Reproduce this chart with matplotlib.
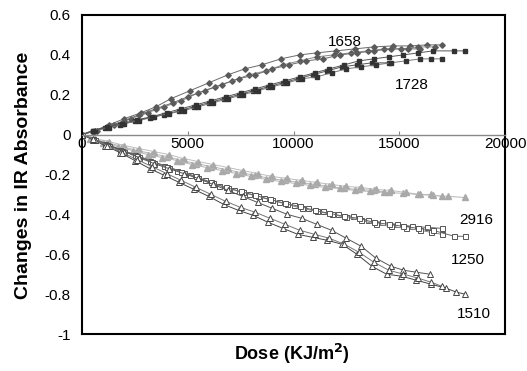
import matplotlib
matplotlib.use('Agg')
import matplotlib.pyplot as plt
from matplotlib.ticker import FuncFormatter

plt.rcParams['font.family'] = ['Liberation Sans', 'DejaVu Sans']

# ---- data: dose (KJ/m2) vs change in IR absorbance ----
# 1658 band (filled diamonds), replicate runs
dose_1658_a = [0, 600, 1300, 2000, 2800, 3500, 4200, 5100, 6000, 6900, 7700, 8500,
               9400, 10300, 11100, 12000, 12900, 13800, 14700, 15500, 16300, 17000]
abs_1658_a = [0, 0.02, 0.05, 0.08, 0.11, 0.14, 0.18, 0.22, 0.26, 0.30, 0.33, 0.35,
              0.38, 0.40, 0.41, 0.42, 0.43, 0.44, 0.445, 0.445, 0.45, 0.45]
dose_1658_b = [0, 700, 1500, 2300, 3100, 3900, 4700, 5500, 6300, 7100, 7900, 8700,
               9500, 10300, 11100, 11900, 12700, 13500, 14300, 15100, 15900, 16700]
abs_1658_b = [0, 0.02, 0.05, 0.08, 0.11, 0.14, 0.17, 0.21, 0.24, 0.27, 0.30, 0.32,
              0.35, 0.37, 0.39, 0.40, 0.41, 0.42, 0.43, 0.43, 0.44, 0.44]
dose_1658_c = [0, 500, 1200, 2000, 2700, 3500, 4300, 5000, 5800, 6600, 7400, 8200,
               9000, 9800, 10600, 11400, 12200, 13000, 13800, 14600, 15400, 16000]
abs_1658_c = [0, 0.015, 0.04, 0.07, 0.10, 0.13, 0.16, 0.19, 0.22, 0.25, 0.28, 0.30,
              0.33, 0.35, 0.37, 0.38, 0.40, 0.41, 0.42, 0.43, 0.43, 0.43]

# 1728 band (filled squares)
dose_1728_a = [0, 500, 1100, 1800, 2500, 3200, 3900, 4600, 5300, 6000, 6700, 7400,
               8100, 8800, 9500, 10200, 10900, 11600, 12300, 13000, 13700, 14500]
abs_1728_a = [0, 0.02, 0.035, 0.05, 0.07, 0.085, 0.10, 0.12, 0.14, 0.16, 0.18, 0.20,
              0.22, 0.24, 0.26, 0.28, 0.30, 0.32, 0.34, 0.35, 0.36, 0.36]
dose_1728_b = [0, 600, 1300, 2000, 2700, 3400, 4100, 4800, 5500, 6200, 6900, 7600,
               8300, 9000, 9700, 10400, 11100, 11800, 12500, 13200, 13900, 14600,
               15300, 16000, 16500, 17000]
abs_1728_b = [0, 0.02, 0.035, 0.055, 0.07, 0.09, 0.105, 0.12, 0.14, 0.16, 0.18, 0.20,
              0.22, 0.24, 0.26, 0.28, 0.29, 0.31, 0.33, 0.34, 0.35, 0.36,
              0.37, 0.38, 0.38, 0.38]
dose_1728_c = [0, 500, 1200, 1900, 2600, 3300, 4000, 4700, 5400, 6100, 6800, 7500,
               8200, 8900, 9600, 10300, 11000, 11700, 12400, 13100, 13800, 14500,
               15200, 15900, 16600, 17600, 18100]
abs_1728_c = [0, 0.02, 0.04, 0.055, 0.075, 0.09, 0.11, 0.13, 0.15, 0.17, 0.19, 0.21,
              0.23, 0.25, 0.27, 0.29, 0.31, 0.33, 0.35, 0.37, 0.38, 0.39,
              0.40, 0.41, 0.42, 0.42, 0.42]

# 2916 band (grey filled triangles)
dose_2916_a = [0, 500, 1200, 1900, 2600, 3300, 4000, 4700, 5400, 6100, 6800, 7500,
               8200, 8900, 9600, 10300, 11000, 11700, 12400, 13100, 13800, 14500,
               15200, 15900, 16600, 17300, 18100]
abs_2916_a = [0, -0.02, -0.04, -0.06, -0.08, -0.095, -0.11, -0.13, -0.145, -0.16,
              -0.175, -0.19, -0.205, -0.22, -0.23, -0.24, -0.25, -0.26, -0.27,
              -0.275, -0.28, -0.29, -0.295, -0.30, -0.305, -0.31, -0.315]
dose_2916_b = [0, 600, 1300, 2000, 2700, 3400, 4100, 4800, 5500, 6200, 6900, 7600,
               8300, 9000, 9700, 10400, 11100, 11800, 12500, 13200, 13900, 14600,
               15300, 16000, 16500, 17000]
abs_2916_b = [0, -0.02, -0.035, -0.055, -0.07, -0.085, -0.10, -0.12, -0.135, -0.15,
              -0.165, -0.18, -0.195, -0.21, -0.22, -0.23, -0.24, -0.25, -0.26,
              -0.265, -0.275, -0.28, -0.29, -0.30, -0.30, -0.31]
dose_2916_c = [0, 400, 1000, 1700, 2400, 3100, 3800, 4500, 5200, 5900, 6600, 7300,
               8000, 8700, 9400, 10100, 10800, 11500, 12200, 12900, 13600, 14300]
abs_2916_c = [0, -0.02, -0.04, -0.06, -0.08, -0.10, -0.115, -0.13, -0.15, -0.165,
              -0.18, -0.195, -0.21, -0.225, -0.235, -0.245, -0.255, -0.265,
              -0.27, -0.28, -0.285, -0.29]

# 1250 band (open squares)
dose_1250_a = [0, 500, 1100, 1800, 2500, 3200, 3900, 4500, 5100, 5800, 6500, 7200,
               7900, 8600, 9300, 10000, 10700, 11400, 12100, 12800, 13500, 14200,
               14900, 15600, 16300, 17000]
abs_1250_a = [0, -0.02, -0.045, -0.075, -0.10, -0.13, -0.155, -0.18, -0.205, -0.23,
              -0.26, -0.28, -0.30, -0.32, -0.34, -0.355, -0.37, -0.385, -0.40,
              -0.41, -0.43, -0.44, -0.45, -0.46, -0.465, -0.47]
dose_1250_b = [0, 600, 1300, 2000, 2700, 3400, 4100, 4800, 5500, 6200, 6900, 7600,
               8300, 9000, 9700, 10400, 11100, 11800, 12500, 13200, 13900, 14600,
               15300, 16000, 16500, 17000]
abs_1250_b = [0, -0.025, -0.055, -0.085, -0.11, -0.14, -0.165, -0.19, -0.22, -0.245,
              -0.27, -0.29, -0.31, -0.33, -0.35, -0.37, -0.385, -0.40, -0.415,
              -0.43, -0.45, -0.46, -0.47, -0.48, -0.49, -0.50]
dose_1250_c = [0, 500, 1200, 1900, 2600, 3300, 4000, 4700, 5400, 6100, 6800, 7500,
               8200, 8900, 9600, 10300, 11000, 11700, 12400, 13100, 13800, 14500,
               15200, 15900, 16600, 17600, 18100]
abs_1250_c = [0, -0.02, -0.05, -0.08, -0.105, -0.135, -0.16, -0.185, -0.21, -0.24,
              -0.265, -0.285, -0.305, -0.325, -0.345, -0.36, -0.38, -0.395, -0.41,
              -0.42, -0.44, -0.45, -0.46, -0.47, -0.48, -0.51, -0.51]

# 1510 band (open triangles)
dose_1510_a = [0, 500, 1100, 1800, 2500, 3200, 3900, 4600, 5300, 6000, 6700, 7400,
               8100, 8800, 9500, 10200, 10900, 11600, 12300, 13000, 13700, 14400,
               15100, 15800, 16500, 17200, 17700, 18100]
abs_1510_a = [0, -0.025, -0.055, -0.09, -0.13, -0.17, -0.205, -0.24, -0.275, -0.31,
              -0.35, -0.38, -0.405, -0.44, -0.47, -0.50, -0.515, -0.53, -0.55,
              -0.60, -0.66, -0.70, -0.71, -0.73, -0.75, -0.77, -0.79, -0.80]
dose_1510_b = [0, 600, 1300, 2000, 2700, 3400, 4100, 4800, 5500, 6200, 6900, 7600,
               8300, 9000, 9700, 10400, 11100, 11800, 12500, 13200, 13900, 14600,
               15200, 15800, 16450]
abs_1510_b = [0, -0.025, -0.055, -0.085, -0.115, -0.145, -0.17, -0.195, -0.22, -0.25,
              -0.28, -0.31, -0.34, -0.37, -0.40, -0.42, -0.45, -0.48, -0.52,
              -0.56, -0.62, -0.66, -0.68, -0.69, -0.70]
dose_1510_c = [0, 500, 1200, 1900, 2600, 3300, 4000, 4700, 5400, 6100, 6800, 7500,
               8200, 8900, 9600, 10300, 11000, 11700, 12400, 13100, 13800, 14500,
               15200, 15900, 16500, 17000]
abs_1510_c = [0, -0.02, -0.055, -0.09, -0.125, -0.16, -0.195, -0.23, -0.265, -0.30,
              -0.335, -0.365, -0.39, -0.42, -0.45, -0.48, -0.50, -0.52, -0.55,
              -0.59, -0.64, -0.68, -0.70, -0.72, -0.74, -0.76]

band_labels = ['1658', '1728', '2916', '1250', '1510']
label_pos = [(12450, 0.465), (15600, 0.25), (18650, -0.43), (18250, -0.63), (18550, -0.90)]

x_ticks = [0, 5000, 10000, 15000, 20000]
y_ticks = [0.6, 0.4, 0.2, 0, -0.2, -0.4, -0.6, -0.8, -1]

series = [
    (dose_1658_a, abs_1658_a, dict(marker='D', ms=2.8, mfc='#5a5a5a', mec='#5a5a5a', color='#6a6a6a')),
    (dose_1658_b, abs_1658_b, dict(marker='D', ms=2.8, mfc='#5a5a5a', mec='#5a5a5a', color='#8a8a8a')),
    (dose_1658_c, abs_1658_c, dict(marker='D', ms=2.8, mfc='#5a5a5a', mec='#5a5a5a', color='#6a6a6a')),
    (dose_1728_a, abs_1728_a, dict(marker='s', ms=3.2, mfc='#333333', mec='#333333', color='#555555')),
    (dose_1728_b, abs_1728_b, dict(marker='s', ms=3.2, mfc='#333333', mec='#333333', color='#777777')),
    (dose_1728_c, abs_1728_c, dict(marker='s', ms=3.2, mfc='#333333', mec='#333333', color='#555555')),
    (dose_2916_a, abs_2916_a, dict(marker='^', ms=3.8, mfc='#a9a9a9', mec='#a9a9a9', color='#b5b5b5')),
    (dose_2916_b, abs_2916_b, dict(marker='^', ms=3.8, mfc='#a9a9a9', mec='#a9a9a9', color='#bdbdbd')),
    (dose_2916_c, abs_2916_c, dict(marker='^', ms=3.8, mfc='#a9a9a9', mec='#a9a9a9', color='#b5b5b5')),
    (dose_1250_a, abs_1250_a, dict(marker='s', ms=3.6, mfc='white', mec='#555555', mew=0.7, color='#666666')),
    (dose_1250_b, abs_1250_b, dict(marker='s', ms=3.6, mfc='white', mec='#555555', mew=0.7, color='#888888')),
    (dose_1250_c, abs_1250_c, dict(marker='s', ms=3.6, mfc='white', mec='#555555', mew=0.7, color='#666666')),
    (dose_1510_a, abs_1510_a, dict(marker='^', ms=4.0, mfc='white', mec='#444444', mew=0.7, color='#444444')),
    (dose_1510_b, abs_1510_b, dict(marker='^', ms=4.0, mfc='white', mec='#444444', mew=0.7, color='#555555')),
    (dose_1510_c, abs_1510_c, dict(marker='^', ms=4.0, mfc='white', mec='#444444', mew=0.7, color='#777777')),
]

fig = plt.figure(figsize=(5.27, 3.71), dpi=100)
ax = fig.add_axes([82/527, 37/371, 423/527, 319/371])

for d, a, style in series:
    ax.plot(d, a, lw=0.7, **style)

for lab, (lx, ly) in zip(band_labels, label_pos):
    ax.text(lx, ly, lab, fontsize=11, ha='center', va='center')

ax.set_xlim(0, 20000)
ax.set_ylim(-1, 0.6)

# x axis crosses at zero, box kept around the plot
ax.spines['bottom'].set_position(('data', 0))
ax.spines['bottom'].set_color('#888888')
ax.spines['bottom'].set_linewidth(1.0)
ax.axhline(-1, color='black', lw=1.5, clip_on=False)
for s in ['left', 'right', 'top']:
    ax.spines[s].set_linewidth(1.5)

ax.set_xticks(x_ticks)
ax.set_yticks(y_ticks)
ax.yaxis.set_major_formatter(FuncFormatter(lambda v, p: '%g' % round(v, 1)))
ax.tick_params(axis='x', direction='in', length=3, labelsize=11, pad=2, color='#888888')
ax.tick_params(axis='y', direction='out', length=0, labelsize=11, pad=8)

fig.text(24/527, 1 - 175/371, 'Changes in IR Absorbance', rotation=90, fontsize=14,
         fontweight='bold', ha='center', va='center')
fig.text(292/527, 1 - 354/371, 'Dose (KJ/m$^\\mathbf{2}$)', fontsize=13,
         fontweight='bold', ha='center', va='center')

fig.savefig('out.png', dpi=100)
